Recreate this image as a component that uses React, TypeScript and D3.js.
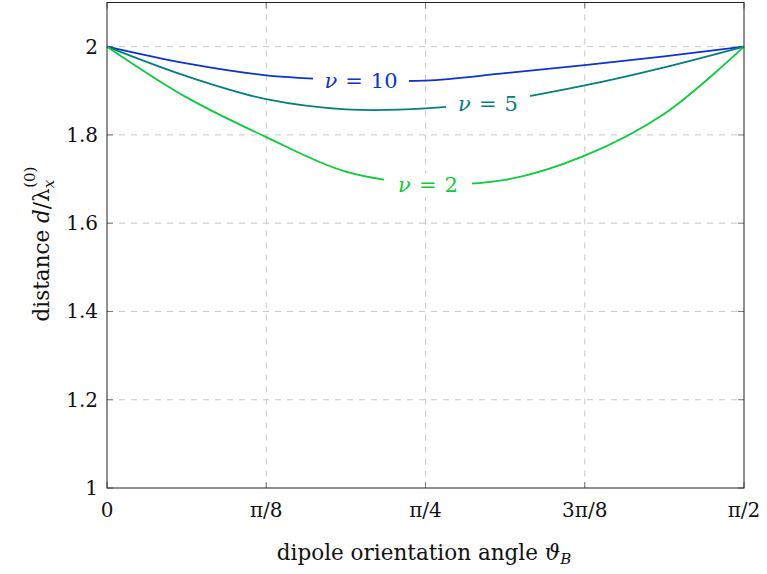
import React from "react";
import * as d3 from "d3";

const PI = Math.PI;
// angles: k * pi/16, k = 0..8
const angleSteps = [0, 1, 2, 3, 4, 5, 6, 7, 8];
const nu10 = [2, 1.962, 1.935, 1.925, 1.923, 1.94, 1.958, 1.978, 2];
const nu5 = [2, 1.933, 1.881, 1.858, 1.86, 1.879, 1.912, 1.953, 2];
const nu2 = [2, 1.885, 1.795, 1.717, 1.69, 1.698, 1.753, 1.848, 2];

const xTickValues = [0, PI / 8, PI / 4, (3 * PI) / 8, PI / 2];
const xTickLabels = ["0", "π/8", "π/4", "3π/8", "π/2"];
const yTickValues = [1, 1.2, 1.4, 1.6, 1.8, 2];
const yTickLabels = ["1", "1.2", "1.4", "1.6", "1.8", "2"];

const seriesNames = ["10", "5", "2"];
const seriesColors = ["#0a33d0", "#008080", "#0ccc3a"];
const seriesData = [nu10, nu5, nu2];
// label anchor positions (angle, value)
const labelAngles = [(254 / 637) * (PI / 2), (381 / 637) * (PI / 2), (321 / 637) * (PI / 2)];
const labelValues = [1.923, 1.869, 1.686];

const W = 767;
const H = 574;
const left = 107;
const right = 744;
const top = 2.5;
const bottom = 488;

const FONT = "DejaVu Serif";

export default function App() {
  const x = d3.scaleLinear().domain([0, PI / 2]).range([left, right]);
  const y = d3.scaleLinear().domain([1, 2.1]).range([bottom, top]);

  const line = d3
    .line<[number, number]>()
    .x((d) => x(d[0]))
    .y((d) => y(d[1]))
    .curve(d3.curveCatmullRom.alpha(0.5));

  const labelW = [96, 84, 88];

  return (
    <svg
      width={W}
      height={H}
      style={{ position: "absolute", left: 0, top: 0, background: "white", fontFamily: FONT }}
    >
      <rect x={0} y={0} width={W} height={H} fill="white" />
      {xTickValues.slice(1, -1).map((v, i) => (
        <line key={"gx" + i} x1={x(v)} x2={x(v)} y1={top} y2={bottom} stroke="#c8c8c8" strokeWidth={1} strokeDasharray="6 6" />
      ))}
      {yTickValues.slice(1).map((v, i) => (
        <line key={"gy" + i} x1={left} x2={right} y1={y(v)} y2={y(v)} stroke="#c8c8c8" strokeWidth={1} strokeDasharray="6 6" />
      ))}
      {xTickValues.map((v, i) => (
        <g key={"tx" + i}>
          <line x1={x(v)} x2={x(v)} y1={bottom} y2={bottom - 6} stroke="#777" />
          <line x1={x(v)} x2={x(v)} y1={top} y2={top + 6} stroke="#777" />
        </g>
      ))}
      {yTickValues.map((v, i) => (
        <g key={"ty" + i}>
          <line x1={left} x2={left + 6} y1={y(v)} y2={y(v)} stroke="#777" />
          <line x1={right} x2={right - 6} y1={y(v)} y2={y(v)} stroke="#777" />
        </g>
      ))}
      {seriesData.map((vals, si) => (
        <path
          key={"s" + si}
          d={line(angleSteps.map((k, j) => [(k * PI) / 16, vals[j]] as [number, number])) || ""}
          fill="none"
          stroke={seriesColors[si]}
          strokeWidth={1.8}
        />
      ))}
      {seriesData.map((_, si) => {
        const cx = x(labelAngles[si]);
        const cy = y(labelValues[si]);
        return (
          <g key={"l" + si}>
            <rect x={cx - labelW[si] / 2} y={cy - 12} width={labelW[si]} height={24} fill="white" />
            <text x={cx} y={cy + 7} textAnchor="middle" fontSize={21} fill={seriesColors[si]}>
              <tspan fontStyle="italic">ν</tspan>
              <tspan dx={8}>=</tspan>
              <tspan dx={8}>{seriesNames[si]}</tspan>
            </text>
          </g>
        );
      })}
      <rect x={left} y={top} width={right - left} height={bottom - top} fill="none" stroke="#222" strokeWidth={1} />
      {xTickValues.map((v, i) => (
        <text key={"xl" + i} x={x(v)} y={517} textAnchor="middle" fontSize={20} fill="#111">
          {xTickLabels[i]}
        </text>
      ))}
      {yTickValues.map((v, i) => (
        <text key={"yl" + i} x={98} y={y(v) + 7} textAnchor="end" fontSize={20} fill="#111">
          {yTickLabels[i]}
        </text>
      ))}
      <text x={424} y={560} textAnchor="middle" fontSize={21.5} fill="#111">
        dipole orientation angle <tspan fontStyle="italic">ϑ</tspan>
        <tspan fontStyle="italic" fontSize={15} dy={4}>B</tspan>
      </text>
      <text transform="translate(49,244) rotate(-90)" textAnchor="middle" fontSize={21.5} fill="#111">
        distance <tspan fontStyle="italic">d</tspan>/λ
        <tspan fontStyle="italic" fontSize={15} dy={5}>x</tspan>
        <tspan fontSize={15} dy={-19} dx={-8}>(0)</tspan>
      </text>
    </svg>
  );
}
